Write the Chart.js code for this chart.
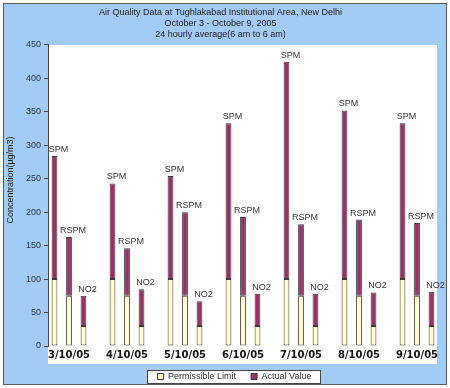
<!DOCTYPE html>
<html>
<head>
<meta charset="utf-8">
<script src="https://cdn.jsdelivr.net/npm/chart.js@4.4.1/dist/chart.umd.min.js"></script>
<style>
  html, body { margin: 0; padding: 0; background: #fff; }
  #wrap { width: 450px; height: 388px; }
</style>
</head>
<body>
<div id="wrap"><canvas id="airChart" width="450" height="388"></canvas></div>
<script>
// Chart data
const dates = ['3/10/05', '4/10/05', '5/10/05', '6/10/05', '7/10/05', '8/10/05', '9/10/05'];
const pollutants = ['SPM', 'RSPM', 'NO2'];
const limits = [100, 75, 30];
const spmValues = [284, 243, 254, 333, 425, 352, 333];
const rspmValues = [163, 146, 200, 193, 182, 189, 184];
const no2Values = [75, 85, 67, 78, 78, 80, 81];
const yTicks = [0, 50, 100, 150, 200, 250, 300, 350, 400, 450];
const yTitle = 'Concentration(µg/m3)';

const actualSeries = [spmValues, rspmValues, no2Values];
const LIMIT_FILL = '#ffffcc';
const ACTUAL_FILL = '#993366';
const BORDER = '#3a3a3a';
const FONT = '"Liberation Sans", Arial, sans-serif';

// one stack per pollutant: limit part at the bottom, the rest above it
const datasets = [];
pollutants.forEach((name, i) => {
  datasets.push({
    label: 'Permissible Limit',
    stack: name,
    data: dates.map(() => limits[i]),
    backgroundColor: LIMIT_FILL,
    borderColor: BORDER,
    borderWidth: 1,
    borderSkipped: false
  });
  datasets.push({
    label: 'Actual Value',
    stack: name,
    pollutant: name,
    data: actualSeries[i].map(v => v - limits[i]),
    backgroundColor: ACTUAL_FILL,
    borderColor: BORDER,
    borderWidth: 1,
    borderSkipped: false
  });
});

// Background: blue frame, white plot panel, white legend box, y title
const framePlugin = {
  id: 'frame',
  beforeDraw(chart) {
    const ctx = chart.ctx;
    const area = chart.chartArea;
    ctx.save();
    ctx.fillStyle = '#ffffff';
    ctx.fillRect(0, 0, chart.width, chart.height);
    ctx.fillStyle = '#a2cbf5';
    ctx.fillRect(3.5, 3.5, 443, 381);
    ctx.strokeStyle = '#5a5a5a';
    ctx.lineWidth = 1;
    ctx.strokeRect(3.5, 3.5, 443, 381);

    ctx.fillStyle = '#ffffff';
    ctx.fillRect(area.left, area.top, area.right - area.left, chart.scales.x.bottom - area.top);

    const boxes = chart.legend.legendHitBoxes;
    if (boxes && boxes.length) {
      const l = Math.round(Math.min(...boxes.map(b => b.left)) - 11) + 0.5;
      const r = Math.round(Math.max(...boxes.map(b => b.left + b.width)) + 9) + 0.5;
      const t = Math.round(Math.min(...boxes.map(b => b.top)) - 2) + 0.5;
      const b = Math.round(Math.max(...boxes.map(b => b.top + b.height)) + 2) + 0.5;
      ctx.fillStyle = '#ffffff';
      ctx.fillRect(l, t, r - l, b - t);
      ctx.strokeStyle = '#444';
      ctx.strokeRect(l, t, r - l, b - t);
    }

    // axis title sits a little below the middle of the axis, like the original
    ctx.translate(11, 180);
    ctx.rotate(-Math.PI / 2);
    ctx.font = '9px "Liberation Sans Narrow", "Liberation Sans", Arial, sans-serif';
    ctx.fillStyle = '#1a1a1a';
    ctx.textAlign = 'center';
    ctx.textBaseline = 'middle';
    ctx.fillText(yTitle, 0, 0);
    ctx.restore();
  }
};

// The date groups sit a bit wider apart than the white panel,
// and the legend sits right of centre, tucked under the axis labels
const spreadPlugin = {
  id: 'spread',
  afterLayout(chart) {
    const x = chart.scales.x;
    x.left = chart.chartArea.left - 8;
    x.right = chart.chartArea.right + 9;
    x.width = x.right - x.left;
    x.configure();

    const lg = chart.legend;
    lg.left += 14;
    lg.right += 14;
    lg.top -= 7;
    lg.bottom -= 7;
  }
};

// pollutant names above each bar
const barLabelPlugin = {
  id: 'barLabels',
  afterDatasetsDraw(chart) {
    const ctx = chart.ctx;
    ctx.save();
    ctx.font = '9px ' + FONT;
    ctx.fillStyle = '#333';
    ctx.textAlign = 'center';
    ctx.textBaseline = 'bottom';
    chart.data.datasets.forEach((ds, i) => {
      if (!ds.pollutant) return;
      chart.getDatasetMeta(i).data.forEach(bar => {
        ctx.fillText(ds.pollutant, bar.x + 4, bar.y - 2);
      });
    });
    ctx.restore();
  }
};

new Chart(document.getElementById('airChart'), {
  type: 'bar',
  data: { labels: dates, datasets: datasets },
  plugins: [framePlugin, spreadPlugin, barLabelPlugin],
  options: {
    responsive: false,
    animation: false,
    devicePixelRatio: 1,
    layout: { padding: { left: 4, right: 13, top: 0, bottom: -10 } },
    datasets: { bar: { categoryPercentage: 0.75, barPercentage: 0.4 } },
    plugins: {
      title: {
        display: true,
        text: [
          'Air Quality Data at Tughlakabad Institutional Area, New Delhi',
          'October 3 - October 9, 2005',
          '24 hourly average(6 am to 6 am)'
        ],
        color: '#1a1a1a',
        font: { family: FONT, size: 9, weight: 'normal', lineHeight: 1.22 },
        padding: { top: 7, bottom: 5 }
      },
      legend: {
        position: 'bottom',
        labels: {
          filter: item => item.datasetIndex < 2,
          color: '#333',
          font: { family: FONT, size: 9 },
          boxWidth: 6,
          boxHeight: 6,
          padding: 15
        }
      },
      tooltip: { enabled: false }
    },
    scales: {
      x: {
        stacked: true,
        grid: { display: false, drawTicks: false },
        border: { display: false },
        ticks: {
          color: '#111',
          font: { family: '"DejaVu Sans", Verdana, sans-serif', size: 10, weight: 'bold' },
          padding: 3,
          maxRotation: 0
        }
      },
      y: {
        stacked: true,
        min: 0,
        max: 450,
        afterBuildTicks: scale => { scale.ticks = yTicks.map(v => ({ value: v })); },
        afterFit: scale => { scale.width = 44; },
        grid: { display: true, drawOnChartArea: false, tickLength: 4, color: '#444' },
        border: { display: true, color: '#444' },
        ticks: {
          color: '#1f2f45',
          font: { family: FONT, size: 9 },
          padding: 3
        }
      }
    }
  }
});
</script>
</body>
</html>
